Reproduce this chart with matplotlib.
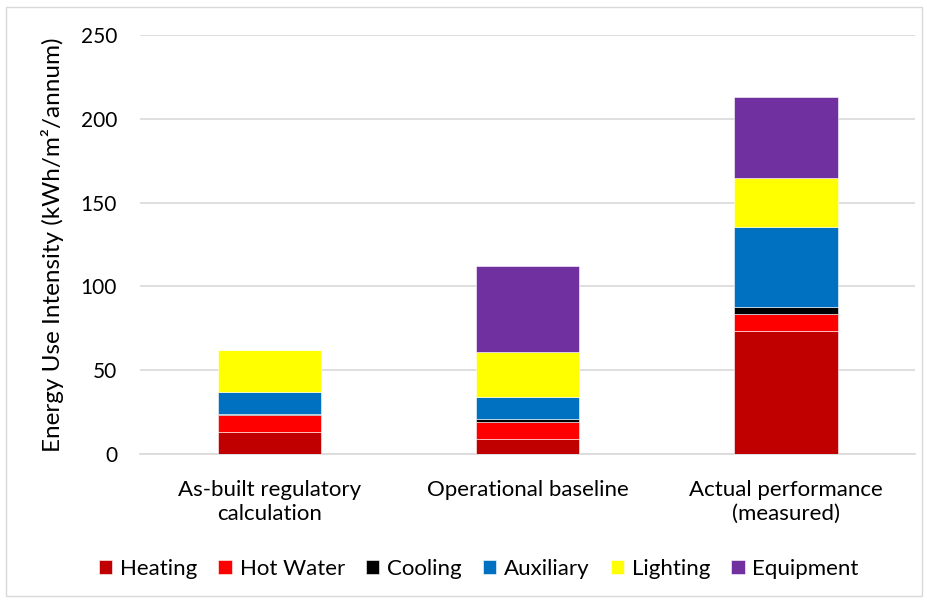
import matplotlib.pyplot as plt
from matplotlib.patches import Rectangle
import numpy as np

plt.rcParams['font.family'] = ['Lato', 'DejaVu Sans']

categories = ["As-built regulatory\ncalculation", "Operational baseline", "Actual performance\n(measured)"]
series_names = ["Heating", "Hot Water", "Cooling", "Auxiliary", "Lighting", "Equipment"]
heating = [13.0, 8.8, 73.1]
hot_water = [10.3, 10.3, 10.3]
cooling = [0.8, 1.6, 4.6]
auxiliary = [13.0, 13.5, 47.6]
lighting = [25.1, 26.9, 28.9]
equipment = [0.0, 50.8, 48.6]

colors = ["#C00000", "#FF0000", "#000000", "#0070C0", "#FFFF00", "#7030A0"]
series = [heating, hot_water, cooling, auxiliary, lighting, equipment]

fig = plt.figure(figsize=(9.28, 6.03), dpi=100)
ax = fig.add_axes([0.1509, 0.2471, 0.8351, 0.6949])

x = np.arange(len(categories))
bottom = np.zeros(len(categories))
for name, vals, col in zip(series_names, series, colors):
    ax.bar(x, vals, 0.4, bottom=bottom, color=col, label=name,
           edgecolor="#ffffff", linewidth=0.4, zorder=3)
    bottom += np.array(vals)

ax.set_xlim(-0.5, 2.5)
ax.set_ylim(0, 250)
ax.set_yticks(np.arange(0, 251, 50))
ax.yaxis.grid(True, color="#d9d9d9", linewidth=1.2, zorder=0)
for s in ["top", "right", "left"]:
    ax.spines[s].set_visible(False)
ax.spines["bottom"].set_color("#d9d9d9")
ax.spines["bottom"].set_linewidth(1.2)
ax.tick_params(axis="both", length=0, colors="#000000")
ax.tick_params(axis="y", pad=16.5, labelsize=15)
ax.tick_params(axis="x", pad=19, labelsize=16)
ax.set_xticks(x)
ax.set_xticklabels(categories, linespacing=1.2)
ax.set_ylabel("Energy Use Intensity (kWh/m²/annum)", fontsize=17.5)
ax.yaxis.set_label_coords(-0.098, 0.5)

fig.legend(loc="center", bbox_to_anchor=(0.516, 0.057), ncol=6, frameon=False,
           fontsize=16, handlelength=0.6, handleheight=0.6, handletextpad=0.35,
           columnspacing=0.95)

fig.patches.append(Rectangle((0.007, 0.011), 0.986, 0.978, transform=fig.transFigure,
                             fill=False, edgecolor="#d9d9d9", linewidth=1))

fig.savefig("out.png", dpi=100)
